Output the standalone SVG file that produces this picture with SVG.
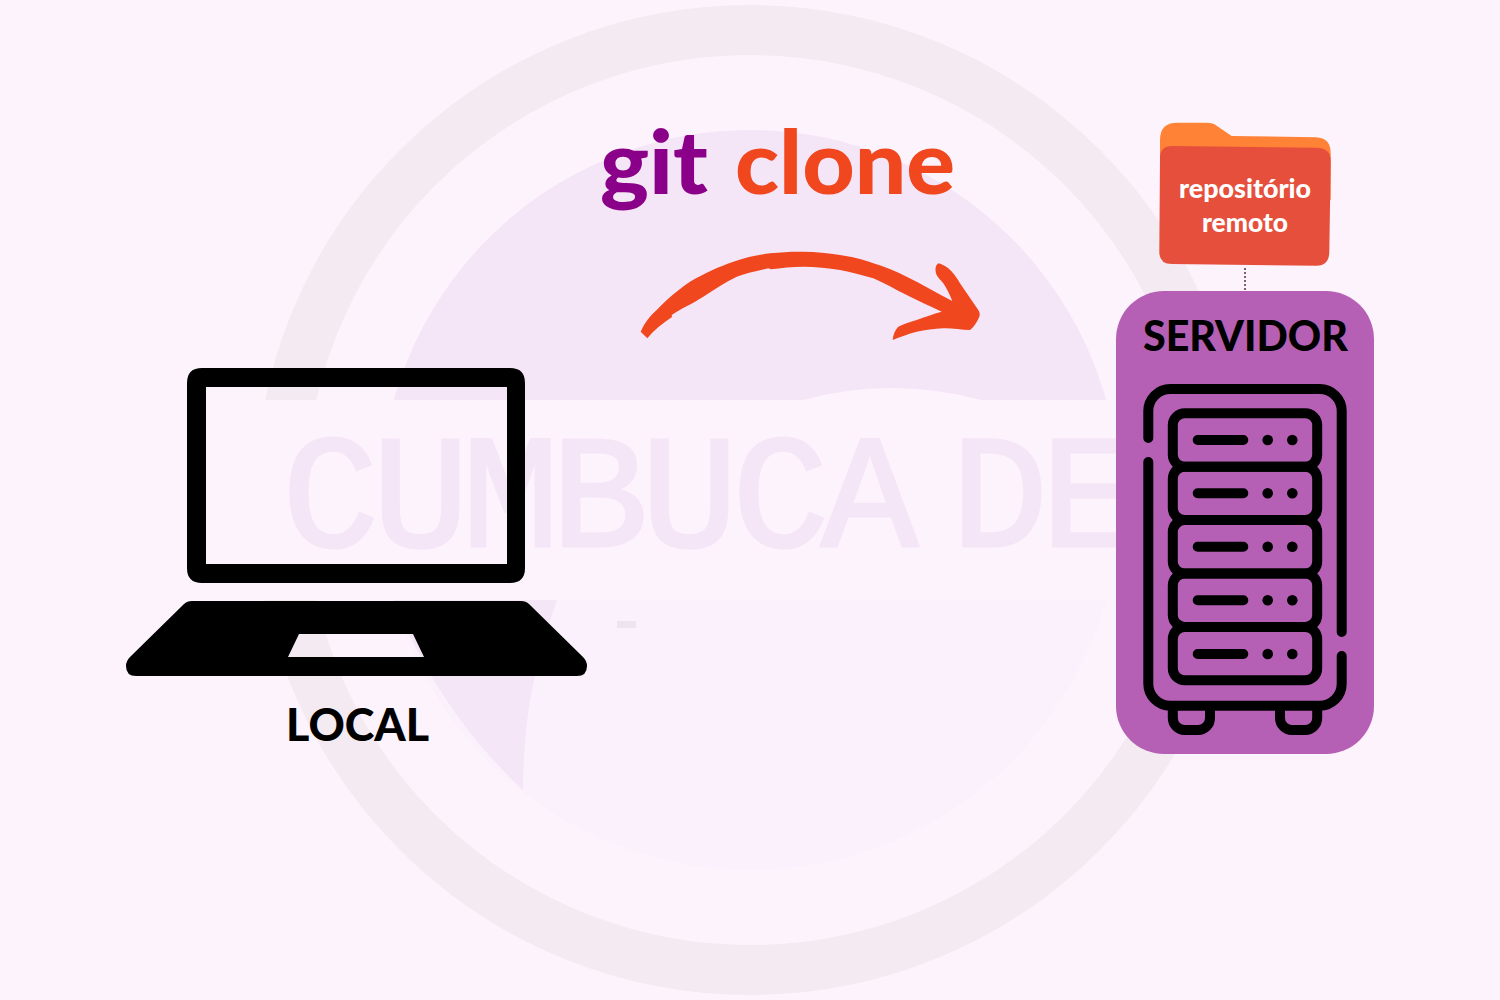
<svg xmlns="http://www.w3.org/2000/svg" width="1500" height="1000" viewBox="0 0 1500 1000">
<style>
.t{font-family:"Lato","Liberation Sans",sans-serif;font-weight:900}
.w{font-family:"Lato","Liberation Sans",sans-serif;font-weight:900;fill:#fff;font-size:27px}
.k{fill:none;stroke:#000;stroke-width:10;stroke-linecap:round;stroke-linejoin:round}
.wm{font-family:"Liberation Mono",monospace;font-size:162px;fill:#f5e6f7;stroke:#f5e6f7;stroke-width:3}
</style>
<defs>
<clipPath id="topBand"><rect x="0" y="0" width="1500" height="400"/></clipPath>
<clipPath id="botBand"><rect x="0" y="600" width="1500" height="400"/></clipPath>
</defs>
<rect width="1500" height="1000" fill="#fdf3fd"/>
<g id="watermark">
<g clip-path="url(#topBand)">
<circle cx="750" cy="500" r="470" fill="none" stroke="#f4eaf1" stroke-width="50"/>
<circle cx="750" cy="500" r="370" fill="#f5e6f7"/>
<path d="M800,401 Q890,375 985,401 Z" fill="#fdf3fd"/>
</g>
<g clip-path="url(#botBand)">
<circle cx="750" cy="500" r="470" fill="none" stroke="#f4eaf1" stroke-width="50"/>
<circle cx="750" cy="500" r="370" fill="#fbf1fd"/>
<path d="M394,600 H557 C540,650 524,700 523,790 C480,750 430,690 394,600 Z" fill="#f5e6f7"/>
</g>
<text class="wm" y="546" x="282 372 462 551 641 732 821 911 951 1041">CUMBUCA DE</text>
<rect x="617" y="621" width="19" height="7" fill="#ece5ed"/>
</g>
<g id="connectors">
<path id="clone-arrow" fill="#f0471f" d="M640.7,331.7 C645,322 650,316 656.7,310 C668,298 678,290 690,281.7 C705,273 718,267 733.3,261.7 C746,257 758,255 770,253.3 C782,252 792,251.5 803.3,251.7 C816,252 828,253 840,255 C852,257 862,259 873.3,263.3 C885,267 896,271 906.7,276.7 C922,284 937,293 952.3,301 C950,295 947,289 943.3,283.3 C940,279 936,276 935.7,271.7 C935,268 936,265 938.3,263.3 C942,264 945,266 948.3,268.3 C953,272 957,278 960,283.3 C966,292 972,301 978.3,310 C980,313 980,315 979.3,316.7 C977,322 974,327 970,330 C961,330 952,328 943.3,328.3 C934,329 925,330 916.7,331.7 C908,334 900,337 892.7,340 C893,335 895,330 898.3,326.7 C904,324 910,322 916.7,320 C925,317 933,314 941.7,311.7 C930,306 918,301 906.7,295 C896,290 885,283 873.3,278.3 C862,275 851,272 840,270 C828,268 816,267 803.3,266.7 C792,266.7 781,268 771,269.3 L768.5,268.3 C757,271 747,273 736.7,276.7 C725,282 714,290 703.3,296.7 C692,304 682,308 671.7,315 L672,317 C663,323 654,330 647.3,338.3 Z"/>
<line id="folder-link" x1="1245" y1="268" x2="1245" y2="291" stroke="#5a2f3f" stroke-width="1.5" stroke-dasharray="2 2"/>
</g>
<g id="title">
<text class="t" x="600" y="194" font-size="88" fill="#8a0088" textLength="108" lengthAdjust="spacingAndGlyphs">git</text>
<text class="t" x="735" y="194" font-size="88" fill="#f0471f" textLength="220" lengthAdjust="spacingAndGlyphs">clone</text>
</g>
<g id="local">
<path fill-rule="evenodd" d="M202,368 H510 Q525,368 525,383 V568 Q525,583 510,583 H202 Q187,583 187,568 V383 Q187,368 202,368 Z M206,387 V564 H507 V387 Z"/>
<path fill-rule="evenodd" d="M192,601 H521 Q526,601 529,604 L583,657 Q587,661 587,666 Q587,676 577,676 H136 Q126,676 126,666 Q126,661 130,657 L184,604 Q187,601 192,601 Z M299,634 L288,657 H424 L413,634 Z"/>
<text class="t" x="286" y="741" font-size="45" fill="#000" textLength="143" lengthAdjust="spacingAndGlyphs">LOCAL</text>
</g>
<g id="servidor">
<rect x="1116" y="291" width="258" height="463" rx="48" fill="#b35bb3" fill-opacity="0.97"/>
<text class="t" x="1143" y="351" font-size="42" fill="#000" textLength="205" lengthAdjust="spacingAndGlyphs">SERVIDOR</text>
<path class="k" d="M1148.3,438 V411 a22,22 0 0 1 22,-22 H1319.7 a22,22 0 0 1 22,22 V632"/>
<path class="k" d="M1341.7,656 V683.7 a22,22 0 0 1 -22,22 H1170.3 a22,22 0 0 1 -22,-22 V462"/>
<path class="k" d="M1172.8,706 V718 a12,12 0 0 0 12,12 H1198 a12,12 0 0 0 12,-12 V706"/>
<path class="k" d="M1280,706 V718 a12,12 0 0 0 12,12 H1305.2 a12,12 0 0 0 12,-12 V706"/>
<g class="k">
<rect x="1172.8" y="413.3" width="144.4" height="53.4" rx="12"/>
<rect x="1172.8" y="466.7" width="144.4" height="53.4" rx="12"/>
<rect x="1172.8" y="520.1" width="144.4" height="53.4" rx="12"/>
<rect x="1172.8" y="573.5" width="144.4" height="53.4" rx="12"/>
<rect x="1172.8" y="626.9" width="144.4" height="53.4" rx="12"/>
<path d="M1197.7,440 H1243.3 M1197.7,493.3 H1243.3 M1197.7,546.7 H1243.3 M1197.7,600.3 H1243.3 M1197.7,654 H1243.3"/>
</g>
<g fill="#000">
<circle cx="1267.7" cy="440" r="5.3"/><circle cx="1292.3" cy="440" r="5.3"/>
<circle cx="1267.7" cy="493.3" r="5.3"/><circle cx="1292.3" cy="493.3" r="5.3"/>
<circle cx="1267.7" cy="546.7" r="5.3"/><circle cx="1292.3" cy="546.7" r="5.3"/>
<circle cx="1267.7" cy="600.3" r="5.3"/><circle cx="1292.3" cy="600.3" r="5.3"/>
<circle cx="1267.7" cy="654" r="5.3"/><circle cx="1292.3" cy="654" r="5.3"/>
</g>
</g>
<g id="repositorio">
<path fill="#ff8236" d="M1160,200 V140 Q1160,122.7 1177,122.7 H1207 Q1213,122.7 1217,126 L1231.7,136 L1316,137.3 Q1330.7,138 1330.7,153 V200 Z"/>
<path fill="#e64f3c" d="M1172,146 L1316.7,147.7 Q1330.7,148 1330.7,161 L1329.3,252 Q1329,265.7 1316.7,265.7 L1172,264 Q1159.3,264 1159.3,252 L1160,158 Q1160,146 1172,146 Z"/>
<text class="w" x="1179" y="198" textLength="132" lengthAdjust="spacingAndGlyphs">repositório</text>
<text class="w" x="1202" y="232" textLength="86" lengthAdjust="spacingAndGlyphs">remoto</text>
</g>
</svg>
